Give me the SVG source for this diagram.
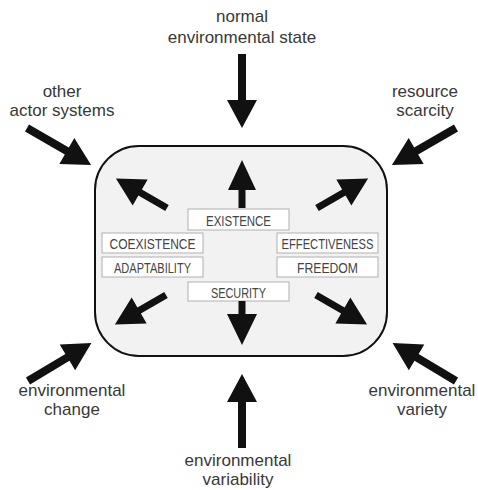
<svg xmlns="http://www.w3.org/2000/svg" width="478" height="490" viewBox="0 0 478 490">
<style>
.lbl{font-family:"Liberation Sans",Arial,sans-serif;font-size:17px;fill:#383838;text-anchor:middle}
.cap{font-family:"Liberation Sans",Arial,sans-serif;font-size:14px;fill:#444;text-anchor:middle}
.tag{fill:#fff;stroke:#b0b0b0;stroke-width:1}
.arw{fill:#111}
</style>
<defs>
<path id="outer" d="M0,-4H46V-15L74,0L46,15V4H0Z"/>
<path id="diag" d="M0,-3.5H31V-15L59,0L31,15V3.5H0Z"/>
<path id="upin" d="M0,-3.5H18V-14L48,0L18,14V3.5H0Z"/>
<path id="downin" d="M0,-3.5H13V-15L44,0L13,15V3.5H0Z"/>
</defs>
<rect width="478" height="490" fill="#fff"/>
<g id="system">
<rect x="95" y="146" width="292" height="210" rx="44" ry="44" fill="#f2f2f2" stroke="#111" stroke-width="2"/>
</g>
<g id="existence"><rect class="tag" x="188" y="209" width="101" height="21"/><text class="cap" x="238.5" y="226" textLength="65" lengthAdjust="spacingAndGlyphs">EXISTENCE</text></g>
<g id="coexistence"><rect class="tag" x="102" y="233" width="101" height="20"/><text class="cap" x="152.5" y="249" textLength="86" lengthAdjust="spacingAndGlyphs">COEXISTENCE</text></g>
<g id="adaptability"><rect class="tag" x="102" y="257" width="101" height="20"/><text class="cap" x="152.5" y="273" textLength="77" lengthAdjust="spacingAndGlyphs">ADAPTABILITY</text></g>
<g id="effectiveness"><rect class="tag" x="277" y="233" width="101" height="20"/><text class="cap" x="327.5" y="249" textLength="92" lengthAdjust="spacingAndGlyphs">EFFECTIVENESS</text></g>
<g id="freedom"><rect class="tag" x="277" y="257" width="101" height="20"/><text class="cap" x="327.5" y="273" textLength="61" lengthAdjust="spacingAndGlyphs">FREEDOM</text></g>
<g id="security"><rect class="tag" x="188" y="282" width="101" height="19"/><text class="cap" x="238.5" y="298" textLength="55" lengthAdjust="spacingAndGlyphs">SECURITY</text></g>
<g id="normal-state"><text class="lbl" x="242" y="22">normal</text><text class="lbl" x="242" y="43">environmental state</text></g>
<g id="other-actors"><text class="lbl" x="62" y="97">other</text><text class="lbl" x="62" y="116">actor systems</text></g>
<g id="resource-scarcity"><text class="lbl" x="425" y="97">resource</text><text class="lbl" x="425" y="116">scarcity</text></g>
<g id="env-change"><text class="lbl" x="72" y="396">environmental</text><text class="lbl" x="72" y="415">change</text></g>
<g id="env-variety"><text class="lbl" x="422" y="396">environmental</text><text class="lbl" x="422" y="415">variety</text></g>
<g id="env-variability"><text class="lbl" x="238" y="466">environmental</text><text class="lbl" x="238" y="485">variability</text></g>
<g id="connectors" class="arw">
<use href="#outer" transform="translate(242,54) rotate(90)"/>
<use href="#outer" transform="translate(242,448) rotate(-90)"/>
<use href="#outer" transform="translate(27,128) rotate(30)"/>
<use href="#outer" transform="translate(456,128) rotate(150)"/>
<use href="#outer" transform="translate(28,381) rotate(-31)"/>
<use href="#outer" transform="translate(456,381) rotate(-149)"/>
<use href="#upin" transform="translate(242,208) rotate(-90)"/>
<use href="#downin" transform="translate(242,301) rotate(90)"/>
<use href="#diag" transform="translate(167,208) rotate(210)"/>
<use href="#diag" transform="translate(317,208) rotate(-30)"/>
<use href="#diag" transform="translate(166,295) rotate(150)"/>
<use href="#diag" transform="translate(316,295) rotate(30)"/>
</g>
</svg>
